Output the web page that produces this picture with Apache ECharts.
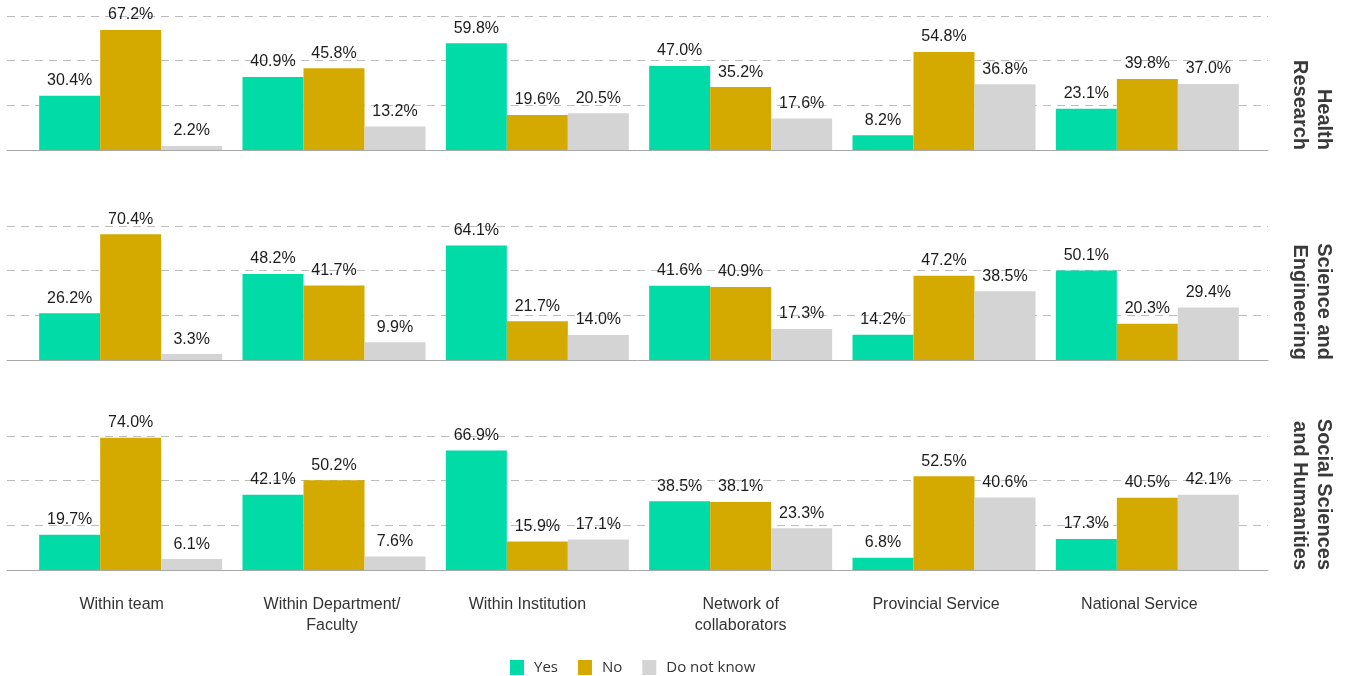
<!DOCTYPE html>
<html>
<head>
<meta charset="utf-8">
<script src="https://cdn.jsdelivr.net/npm/echarts@6/dist/echarts.min.js"></script>
<style>
  html, body { margin: 0; padding: 0; background: #ffffff; }
  #chart { width: 1347px; height: 676px; }
</style>
</head>
<body>
<div id="chart"></div>
<script>
// Where collaboration happens, by research field (% of respondents)
const categories = ['Within team', 'Within Department/\nFaculty', 'Within Institution',
  'Network of\ncollaborators', 'Provincial Service', 'National Service'];
const seriesNames = ['Yes', 'No', 'Do not know'];
const panelTitles = ['Health\nResearch', 'Science and\nEngineering', 'Social Sciences\nand Humanities'];

const healthYes = [30.4, 40.9, 59.8, 47.0, 8.2, 23.1];
const healthNo = [67.2, 45.8, 19.6, 35.2, 54.8, 39.8];
const healthDontKnow = [2.2, 13.2, 20.5, 17.6, 36.8, 37.0];

const sciEngYes = [26.2, 48.2, 64.1, 41.6, 14.2, 50.1];
const sciEngNo = [70.4, 41.7, 21.7, 40.9, 47.2, 20.3];
const sciEngDontKnow = [3.3, 9.9, 14.0, 17.3, 38.5, 29.4];

const socialYes = [19.7, 42.1, 66.9, 38.5, 6.8, 17.3];
const socialNo = [74.0, 50.2, 15.9, 38.1, 52.5, 40.5];
const socialDontKnow = [6.1, 7.6, 17.1, 23.3, 40.6, 42.1];

const yTicks = [0, 25, 50, 75];

const panels = [
  [healthYes, healthNo, healthDontKnow],
  [sciEngYes, sciEngNo, sciEngDontKnow],
  [socialYes, socialNo, socialDontKnow]
];

const colors = ['#00dba8', '#d4a900', '#d4d4d4'];
const FONT = '"Liberation Sans", Arial, Helvetica, sans-serif';
const LEGEND_FONT = '"Open Sans", "Noto Sans", sans-serif';

const panelTops = [16, 226, 436];
const panelHeight = 134;
const frameLeft = 7, frameWidth = 1261;
const plotLeft = 29, plotWidth = 1220;

// horizontal nudge (px) of each category label relative to its bar group
const labelNudge = [-9, -2, -10, 0, -8, -8];
const labelRich = {};
labelNudge.forEach((n, i) => {
  labelRich['c' + i] = {
    color: '#333333', fontSize: 16, lineHeight: 21, fontFamily: FONT,
    padding: n < 0 ? [0, -2 * n, 0, 0] : [0, 0, 0, 2 * n]
  };
});

const grids = [], xAxes = [], yAxes = [], series = [], graphics = [];

panelTops.forEach((top, p) => {
  // frame grid: dashed guide lines and solid baseline across the full width
  grids.push({ left: frameLeft, width: frameWidth, top: top, height: panelHeight });
  // plot grid: the bars
  grids.push({ left: plotLeft, width: plotWidth, top: top, height: panelHeight });

  const fg = p * 2, pg = p * 2 + 1;

  xAxes.push({
    type: 'value', gridIndex: fg, min: 0, max: 1,
    axisLine: { show: true, lineStyle: { color: '#a8a8a8', width: 1 } },
    axisTick: { show: false }, axisLabel: { show: false }, splitLine: { show: false }
  });
  yAxes.push({
    type: 'value', gridIndex: fg, min: yTicks[0], max: yTicks[yTicks.length - 1],
    interval: yTicks[1] - yTicks[0],
    axisLine: { show: false }, axisTick: { show: false }, axisLabel: { show: false },
    splitLine: { show: true, showMinLine: false, lineStyle: { color: '#bdbdbd', type: [8, 6], width: 1 } }
  });

  xAxes.push({
    type: 'category', gridIndex: pg, data: categories,
    axisLine: { show: false }, axisTick: { show: false },
    axisLabel: {
      show: p === panelTops.length - 1, interval: 0, margin: 24,
      color: '#333333', fontSize: 16, lineHeight: 21, fontFamily: FONT,
      formatter: (v, i) => '{c' + i + '|' + v + '}',
      rich: labelRich
    },
    splitLine: { show: false }
  });
  yAxes.push({
    type: 'value', gridIndex: pg, min: yTicks[0], max: yTicks[yTicks.length - 1],
    show: false, splitLine: { show: false }
  });

  panels[p].forEach((vals, s) => {
    series.push({
      name: seriesNames[s], type: 'bar', xAxisIndex: pg, yAxisIndex: pg,
      data: vals, barGap: '0%', barCategoryGap: '10%',
      itemStyle: { color: colors[s] },
      label: {
        show: true, position: 'top', distance: 7,
        formatter: (d) => d.value.toFixed(1) + '%',
        color: '#1c1c1c', fontSize: 16, fontFamily: FONT
      },
      emphasis: { disabled: true },
      animation: false
    });
  });

  graphics.push({
    type: 'text', x: 1312, y: top + panelHeight, rotation: -Math.PI / 2,
    style: {
      text: panelTitles[p], fill: '#3a3a3a', font: 'bold 20px ' + FONT,
      align: 'right', verticalAlign: 'middle', lineHeight: 24
    }
  });
});

const chart = echarts.init(document.getElementById('chart'), null, { renderer: 'canvas' });
chart.setOption({
  backgroundColor: '#ffffff',
  animation: false,
  grid: grids,
  xAxis: xAxes,
  yAxis: yAxes,
  series: series,
  graphic: graphics,
  legend: {
    data: seriesNames, top: 660, left: 510, padding: 0,
    icon: 'rect', itemWidth: 14, itemHeight: 15, itemGap: 20,
    textStyle: { color: '#333333', fontSize: 15, fontFamily: LEGEND_FONT, padding: [0, 0, 0, 5] }
  }
});
</script>
</body>
</html>
